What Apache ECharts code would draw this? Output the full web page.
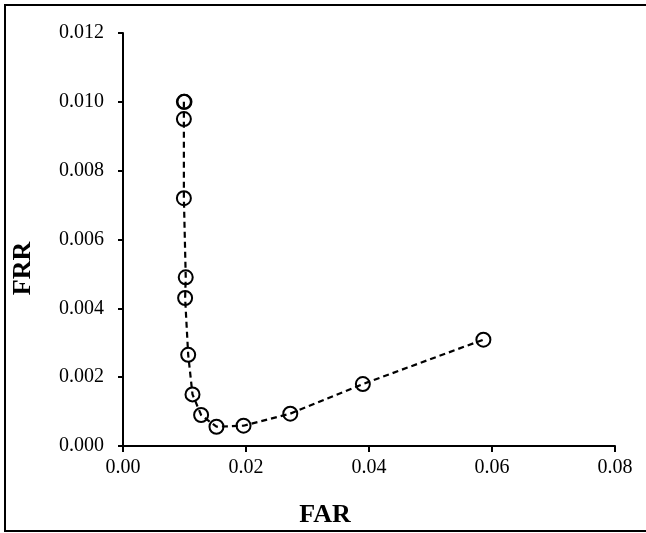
<!DOCTYPE html>
<html>
<head>
<meta charset="utf-8">
<script src="https://cdn.jsdelivr.net/npm/echarts@6/dist/echarts.min.js"></script>
<style>
    html, body { margin: 0; padding: 0; background: #fff; }
    #chart1 { width: 646px; height: 533px; }
</style>
</head>
<body>
<div id="chart1"></div>
<script>
// FAR / FRR values
var farValues = [0.0099, 0.0100, 0.0099, 0.0099, 0.0102, 0.0101, 0.0106, 0.0113, 0.0127, 0.0152, 0.0196, 0.0272, 0.0390, 0.0586];
var frrValues = [0.0100, 0.0100, 0.0095, 0.0072, 0.0049, 0.0043, 0.00265, 0.0015, 0.0009, 0.00056, 0.00059, 0.00094, 0.0018, 0.00309];

var fontName = "'Liberation Serif', 'Times New Roman', serif";

var points = [];
for (var i = 0; i < farValues.length; i++) {
    points.push([farValues[i], frrValues[i]]);
}

var myChart = echarts.init(document.getElementById("chart1"));
var option = {
    animation: false,
    backgroundColor: '#fff',
    grid: { left: 123, top: 33, right: 31, bottom: 85 },
    graphic: [{
        type: 'rect',
        shape: { x: 5, y: 5, width: 660, height: 526 },
        style: { fill: 'none', stroke: '#000', lineWidth: 2 },
        z: 100
    }],
    xAxis: {
        type: 'value',
        min: 0,
        max: 0.08,
        interval: 0.02,
        name: 'FAR',
        nameLocation: 'middle',
        nameGap: 56,
        // label sits left of the plot centre in the original
        nameTextStyle: { fontFamily: fontName, fontSize: 26, fontWeight: 'bold', color: '#000', padding: [0, 88, 0, 0] },
        axisLine: { show: true, lineStyle: { color: '#000', width: 2 } },
        axisTick: { show: true, inside: false, length: 6, lineStyle: { color: '#000', width: 2 } },
        axisLabel: {
            fontFamily: fontName, fontSize: 20, color: '#000', margin: 12,
            formatter: function (v) { return v.toFixed(2); }
        },
        splitLine: { show: false }
    },
    yAxis: {
        type: 'value',
        min: 0,
        max: 0.012,
        interval: 0.002,
        name: 'FRR',
        nameLocation: 'middle',
        nameGap: 87,
        // label sits below the plot centre in the original
        nameTextStyle: { fontFamily: fontName, fontSize: 26, fontWeight: 'bold', color: '#000', padding: [0, 58, 0, 0] },
        axisLine: { show: true, lineStyle: { color: '#000', width: 2 } },
        axisTick: { show: true, inside: false, length: 5, lineStyle: { color: '#000', width: 2 } },
        axisLabel: {
            fontFamily: fontName, fontSize: 20, color: '#000', margin: 19,
            formatter: function (v) { return v.toFixed(3); }
        },
        splitLine: { show: false }
    },
    series: [{
        type: 'line',
        data: points,
        symbol: 'circle',
        symbolSize: 14,
        showAllSymbol: true,
        lineStyle: { color: '#000', width: 2.2, type: [6, 4] },
        itemStyle: { color: 'rgba(255,255,255,0)', borderColor: '#000', borderWidth: 2 }
    }]
};
myChart.setOption(option);
</script>
</body>
</html>
